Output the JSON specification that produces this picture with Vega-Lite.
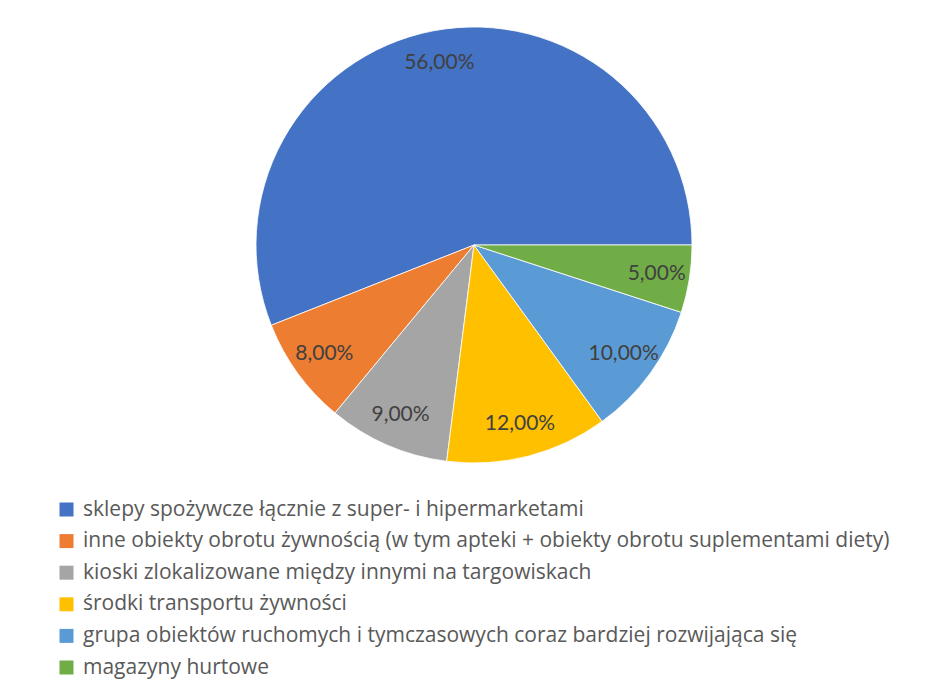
{
  "$schema": "https://vega.github.io/schema/vega-lite/v6.json",
  "width": 436,
  "height": 436,
  "autosize": {"type": "none"},
  "padding": {"left": 256, "top": 27, "right": 233, "bottom": 216},
  "background": "white",
  "data": {
    "values": [
      {"k": 1, "cat": "sklepy spożywcze łącznie z super- i hipermarketami", "v": 0.56},
      {"k": 2, "cat": "inne obiekty obrotu żywnością (w tym apteki + obiekty obrotu suplementami diety)", "v": 0.08},
      {"k": 3, "cat": "kioski zlokalizowane między innymi na targowiskach", "v": 0.09},
      {"k": 4, "cat": "środki transportu żywności", "v": 0.12},
      {"k": 5, "cat": "grupa obiektów ruchomych i tymczasowych coraz bardziej rozwijająca się", "v": 0.10},
      {"k": 6, "cat": "magazyny hurtowe", "v": 0.05}
    ]
  },
  "encoding": {
    "theta": {"field": "v", "type": "quantitative", "stack": true, "scale": {"range": [1.5708, -4.7124]}},
    "order": {"field": "k", "type": "quantitative", "sort": "ascending"}
  },
  "layer": [
    {
      "mark": {"type": "arc", "stroke": "white", "strokeWidth": 0.8},
      "encoding": {
        "color": {
          "field": "cat",
          "type": "nominal",
          "scale": {
            "domain": [
              "sklepy spożywcze łącznie z super- i hipermarketami",
              "inne obiekty obrotu żywnością (w tym apteki + obiekty obrotu suplementami diety)",
              "kioski zlokalizowane między innymi na targowiskach",
              "środki transportu żywności",
              "grupa obiektów ruchomych i tymczasowych coraz bardziej rozwijająca się",
              "magazyny hurtowe"
            ],
            "range": ["#4472C4", "#ED7D31", "#A5A5A5", "#FFC000", "#5B9BD5", "#70AD47"]
          },
          "legend": {
            "title": null,
            "orient": "none",
            "legendX": -200,
            "legendY": 472,
            "direction": "vertical",
            "symbolType": "square",
            "symbolSize": 196,
            "symbolStrokeWidth": 0,
            "labelFont": "Open Sans",
            "labelFontSize": 21,
            "labelColor": "#595959",
            "labelOffset": 6,
            "labelLimit": 900,
            "rowPadding": 9.6,
            "padding": 0
          }
        }
      }
    },
    {
      "mark": {"type": "text", "radius": 185, "font": "Lato", "fontSize": 21, "fill": "#404040"},
      "encoding": {
        "text": {"field": "v", "type": "quantitative", "format": ".2%"}
      }
    }
  ],
  "config": {
    "view": {"stroke": null},
    "locale": {
      "number": {"decimal": ",", "thousands": " ", "grouping": [3], "currency": ["", " zł"]}
    }
  }
}
